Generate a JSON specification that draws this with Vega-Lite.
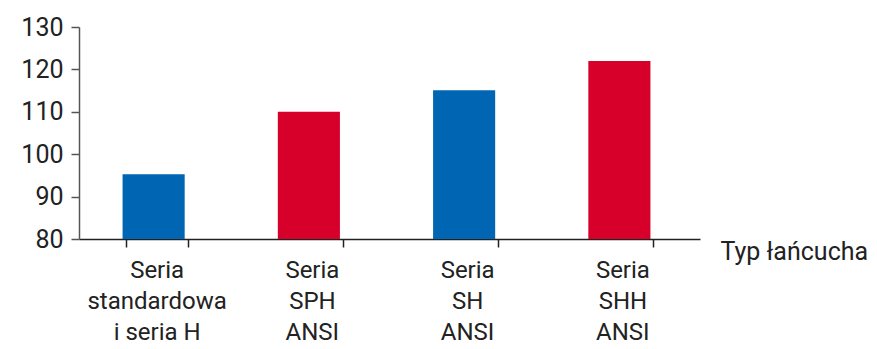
{
  "$schema": "https://vega.github.io/schema/vega-lite/v6.json",
  "width": 621,
  "height": 212,
  "autosize": "none",
  "padding": {"left": 79, "top": 27, "right": 177, "bottom": 110},
  "background": "white",
  "data": {"values": [
    {"kategoria": "Seria|standardowa|i seria H", "wartosc": 95.3, "kolor": "blue"},
    {"kategoria": "Seria|SPH|ANSI", "wartosc": 110, "kolor": "red"},
    {"kategoria": "Seria|SH|ANSI", "wartosc": 115.1, "kolor": "blue"},
    {"kategoria": "Seria|SHH|ANSI", "wartosc": 122, "kolor": "red"}
  ]},
  "config": {
    "view": {"stroke": null},
    "font": "Roboto",
    "axis": {"labelFont": "Roboto", "titleFont": "Roboto", "labelColor": "#222", "titleColor": "#222", "grid": false}
  },
  "mark": {"type": "bar", "clip": true, "xOffset": -3},
  "encoding": {
    "x": {
      "field": "kategoria", "type": "nominal", "sort": null,
      "scale": {"paddingInner": 0.6, "paddingOuter": 0.3},
      "axis": {
        "title": "Typ łańcucha",
        "titleFontSize": 25, "titleFontWeight": "normal",
        "titleX": 641, "titleY": 0, "titleAlign": "left", "titleBaseline": "top", "titleAnchor": null,
        "labelExpr": "split(datum.label, '|')",
        "labelAngle": 0, "labelFontSize": 24, "labelLineHeight": 31, "labelPadding": 11,
        "tickBand": "extent", "tickSize": 8, "tickColor": "#222", "tickWidth": 1.5,
        "domainColor": "#222", "domainWidth": 1.5
      }
    },
    "y": {
      "field": "wartosc", "type": "quantitative",
      "scale": {"domain": [80, 130], "zero": false, "nice": false},
      "axis": {
        "title": null, "values": [80, 90, 100, 110, 120, 130],
        "labelFontSize": 25, "labelPadding": 8, "tickSize": 8,
        "tickColor": "#555", "domainColor": "#555", "tickWidth": 1.5, "domainWidth": 1.5
      }
    },
    "color": {
      "field": "kolor", "type": "nominal",
      "scale": {"domain": ["blue", "red"], "range": ["#0066b3", "#d7002b"]},
      "legend": null
    }
  }
}
